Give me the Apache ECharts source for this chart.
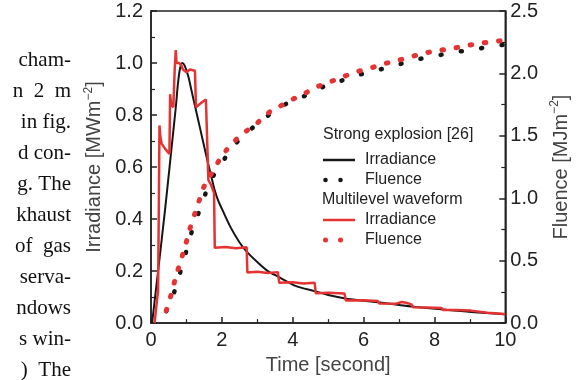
<!DOCTYPE html>
<html>
<head>
<meta charset="utf-8">
<script src="https://cdn.jsdelivr.net/npm/echarts@6/dist/echarts.min.js"></script>
<style>
  html, body { margin: 0; padding: 0; background: #fff; }
  #chart { width: 579px; height: 380px; }
</style>
</head>
<body>
<div id="chart"></div>
<script>
// [time s, irradiance MW/m2] — strong explosion [26]
const strongIrradiance = [
  [0.03, 0], [0.2, 0.2], [0.4, 0.44], [0.6, 0.7], [0.7, 0.83], [0.76, 0.92], [0.82, 0.98],
  [0.88, 1.0], [0.95, 0.99], [1.05, 0.95], [1.15, 0.89], [1.25, 0.83], [1.4, 0.74],
  [1.5, 0.68], [1.6, 0.62], [1.7, 0.565], [1.8, 0.51], [1.9, 0.47], [2.0, 0.44],
  [2.24, 0.37], [2.5, 0.31], [2.7, 0.275], [3.0, 0.235], [3.3, 0.2], [3.6, 0.178],
  [4.1, 0.142], [4.62, 0.123], [5.0, 0.108], [5.48, 0.095], [6.0, 0.086], [6.4, 0.08],
  [7.0, 0.07], [7.35, 0.064], [8.2, 0.053], [9.03, 0.043], [10, 0.034]
];
// [time s, irradiance MW/m2] — multilevel waveform
const multiIrradiance = [
  [0.1, 0], [0.17, 0.09], [0.2, 0.12], [0.24, 0.76], [0.26, 0.72], [0.3, 0.69], [0.4, 0.67],
  [0.52, 0.65], [0.54, 0.88], [0.57, 0.84], [0.63, 0.83], [0.67, 0.98], [0.7, 1.05],
  [0.72, 1.0], [0.8, 1.0], [0.86, 0.99], [0.9, 0.975], [1.0, 0.965], [1.1, 0.975],
  [1.24, 0.97], [1.27, 0.83], [1.4, 0.845], [1.55, 0.86], [1.6, 0.86], [1.62, 0.55],
  [1.7, 0.53], [1.78, 0.5], [1.8, 0.29], [2.1, 0.293], [2.4, 0.288], [2.7, 0.292],
  [2.72, 0.195], [3.0, 0.197], [3.3, 0.193], [3.58, 0.196], [3.62, 0.155], [4.0, 0.157],
  [4.3, 0.152], [4.62, 0.155], [4.65, 0.115], [5.0, 0.117], [5.46, 0.114], [5.5, 0.087],
  [6.0, 0.088], [6.4, 0.085], [6.45, 0.075], [6.9, 0.074], [7.08, 0.081], [7.2, 0.078],
  [7.35, 0.072], [7.4, 0.061], [7.8, 0.06], [8.2, 0.058], [8.25, 0.05], [8.6, 0.05],
  [9.03, 0.048], [9.07, 0.041], [9.5, 0.04], [9.9, 0.036], [10, 0.034]
];
// [time s, fluence MJ/m2]
const strongFluence = [
  [0.43, 0.095], [0.67, 0.26], [0.84, 0.42], [1.0, 0.58], [1.16, 0.74], [1.34, 0.88],
  [1.57, 1.06], [1.8, 1.2], [2.11, 1.33], [2.43, 1.45], [2.89, 1.57], [3.34, 1.67],
  [3.84, 1.76], [4.34, 1.82], [4.84, 1.89], [5.35, 1.94], [5.89, 1.99], [6.44, 2.03],
  [6.97, 2.07], [7.49, 2.11], [8.03, 2.14], [8.55, 2.17], [9.1, 2.19], [9.63, 2.22], [10, 2.23]
];
const multiFluence = [
  [0.43, 0.1], [0.57, 0.23], [0.7, 0.37], [0.84, 0.5], [0.97, 0.62], [1.07, 0.73],
  [1.23, 0.87], [1.37, 0.99], [1.52, 1.11], [1.69, 1.19], [1.96, 1.32], [2.2, 1.41],
  [2.48, 1.49], [2.84, 1.57], [3.07, 1.62], [3.39, 1.7], [3.66, 1.74], [3.98, 1.79],
  [4.34, 1.84], [4.66, 1.89], [5.03, 1.93], [5.39, 1.97], [5.76, 2.01], [6.17, 2.04],
  [6.48, 2.07], [6.91, 2.1], [7.3, 2.13], [7.67, 2.16], [8.06, 2.18], [8.49, 2.2],
  [8.87, 2.22], [9.26, 2.24], [9.67, 2.255], [10, 2.265]
];

// cropped paper text on the left of the figure
const sideText = ['cham-', 'n  2  m', 'in fig.', 'd con-', 'g. The', 'khaust', 'of  gas', 'serva-', 'ndows', 's win-', ')  The'];

const RED = '#e53232';
const BLACK = '#161616';
const AXIS = '#222';
const FONT = '"Liberation Sans", Arial, sans-serif';

const chart = echarts.init(document.getElementById('chart'));

const axisCommon = {
  axisLine: { show: true, lineStyle: { color: AXIS, width: 1.5 } },
  axisTick: { show: true, inside: true, length: 6, lineStyle: { color: AXIS, width: 1.5 } },
  minorTick: { show: true, splitNumber: 2, length: 4, lineStyle: { color: AXIS, width: 1.2 } },
  splitLine: { show: false },
  axisLabel: { color: '#222', fontSize: 20, fontFamily: FONT },
};

const nameRich = {
  t: { fontSize: 20, fontFamily: FONT, color: '#444', lineHeight: 24 },
  s: { fontSize: 12, fontFamily: FONT, color: '#444', verticalAlign: 'top', lineHeight: 12 },
};

const legendText = (x, y, text) => ({
  type: 'text', x, y,
  style: { text, fontSize: 16, fontFamily: FONT, fill: '#222', verticalAlign: 'middle' },
});

const graphic = [
  legendText(323, 135, 'Strong explosion [26]'),
  { type: 'line', shape: { x1: 323, y1: 160, x2: 355, y2: 160 }, style: { stroke: BLACK, lineWidth: 2.5 } },
  legendText(365, 160, 'Irradiance'),
  { type: 'circle', shape: { cx: 325.5, cy: 180, r: 2.3 }, style: { fill: BLACK } },
  { type: 'circle', shape: { cx: 340.5, cy: 180, r: 2.3 }, style: { fill: BLACK } },
  legendText(365, 180, 'Fluence'),
  legendText(322, 200, 'Multilevel waveform'),
  { type: 'line', shape: { x1: 323, y1: 220, x2: 355, y2: 220 }, style: { stroke: RED, lineWidth: 2.5 } },
  legendText(365, 220, 'Irradiance'),
  { type: 'circle', shape: { cx: 325.5, cy: 240, r: 2.5 }, style: { fill: RED } },
  { type: 'circle', shape: { cx: 340.5, cy: 240, r: 2.5 }, style: { fill: RED } },
  legendText(365, 240, 'Fluence'),
];
sideText.forEach((line, i) => {
  graphic.push({
    type: 'text', x: 71, y: 60 + i * 31,
    style: {
      text: line, fontSize: 21, fontFamily: 'Liberation Serif',
      fill: '#111', align: 'right', verticalAlign: 'middle',
    },
  });
});

chart.setOption({
  animation: false,
  backgroundColor: '#fff',
  grid: { left: 151, right: 62, top: 11, bottom: 45, show: true, borderColor: AXIS, borderWidth: 1.5 },
  xAxis: {
    ...axisCommon,
    type: 'value', min: 0, max: 10, interval: 2,
    axisLabel: { ...axisCommon.axisLabel, margin: 7 },
    name: 'Time [second]', nameLocation: 'middle', nameGap: 27,
    nameTextStyle: { fontSize: 20, fontFamily: FONT, color: '#444' },
  },
  yAxis: [
    {
      ...axisCommon,
      type: 'value', min: 0, max: 1.2, interval: 0.2, position: 'left',
      axisLabel: { ...axisCommon.axisLabel, margin: 8, formatter: v => v.toFixed(1) },
      name: '{t|Irradiance [MWm}{s|−2}{t|]}', nameLocation: 'middle', nameGap: 37, nameRotate: 90,
      nameTextStyle: { rich: nameRich },
    },
    {
      ...axisCommon,
      type: 'value', min: 0, max: 2.5, interval: 0.5, position: 'right',
      axisLabel: { ...axisCommon.axisLabel, margin: 5, formatter: v => v.toFixed(1) },
      name: '{t|Fluence [MJm}{s|−2}{t|]}', nameLocation: 'middle', nameGap: 41, nameRotate: 90,
      nameTextStyle: { rich: nameRich },
    },
  ],
  graphic,
  series: [
    {
      name: 'Strong explosion irradiance', type: 'line', yAxisIndex: 0, data: strongIrradiance,
      smooth: 0.3, showSymbol: false, lineStyle: { color: BLACK, width: 2 }, z: 3,
    },
    {
      name: 'Multilevel irradiance', type: 'line', yAxisIndex: 0, data: multiIrradiance,
      showSymbol: false, lineStyle: { color: RED, width: 2.5 }, z: 4,
    },
    {
      name: 'Strong explosion fluence', type: 'line', yAxisIndex: 1, data: strongFluence,
      smooth: 0.3, showSymbol: false,
      lineStyle: { color: BLACK, width: 4.5, type: [1, 19.5], cap: 'round' }, z: 5,
    },
    {
      name: 'Multilevel fluence', type: 'line', yAxisIndex: 1, data: multiFluence,
      smooth: 0.3, showSymbol: false,
      lineStyle: { color: RED, width: 5, type: [1.5, 12.8], cap: 'round' }, z: 5,
    },
  ],
});
</script>
</body>
</html>
